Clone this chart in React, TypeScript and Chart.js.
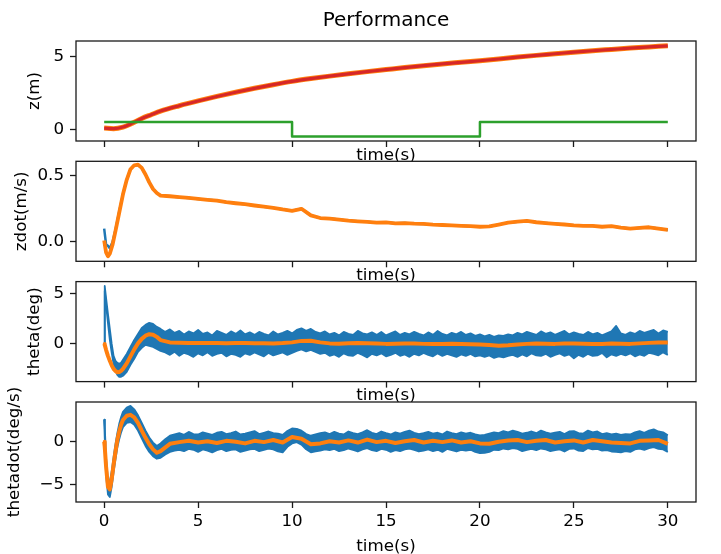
import React, { useEffect, useRef } from 'react';
import { Chart, registerables } from 'chart.js';

Chart.register(...registerables);

// ---------------- data ----------------
const X_TICKS = [0, 5, 10, 15, 20, 25, 30];

// panel 1: z (m)
const T_Z = [0, 0.5, 1, 1.5, 2, 2.5, 3, 4, 5, 6, 7, 8, 9, 10, 11, 12, 13, 14, 15, 16, 17, 18, 19, 20, 21, 22, 23, 24, 25, 26, 27, 28, 29, 30];
const Z_POS = [0.08, 0.04, 0.15, 0.42, 0.74, 1.0, 1.25, 1.62, 1.95, 2.26, 2.55, 2.82, 3.07, 3.3, 3.49, 3.66, 3.82, 3.97, 4.11, 4.25, 4.38, 4.5, 4.61, 4.72, 4.84, 4.97, 5.09, 5.2, 5.31, 5.41, 5.5, 5.59, 5.67, 5.75];
const T_STEP = [0, 10, 10, 20, 20, 30];
const Z_STEP = [0.5, 0.5, -0.5, -0.5, 0.5, 0.5];
const Z_TICKS = [0, 5];

// panel 2: zdot (m/s)
const T_ZDOT_EARLY = [0, 0.1, 0.2, 0.3, 0.45, 0.6, 0.8, 1.0, 1.2, 1.4, 1.6, 1.8, 2.0, 2.2, 2.4, 2.6, 2.8, 3.0];
const ZDOT_FILT_EARLY = [0.01, -0.08, -0.11, -0.09, -0.02, 0.08, 0.22, 0.36, 0.47, 0.55, 0.58, 0.585, 0.56, 0.51, 0.45, 0.4, 0.37, 0.35];
const ZDOT_RAW_EARLY = [0.1, -0.02, -0.03, -0.05, 0.0, 0.09, 0.23, 0.36, 0.47, 0.55, 0.58, 0.58, 0.56, 0.51, 0.45, 0.4, 0.37, 0.35];
const T_LATE_FILT = [
  3.5, 4, 4.5, 5, 5.5, 6, 6.5, 7, 7.5, 8,
  8.5, 9, 9.5, 10, 10.5, 11, 11.5, 12, 12.5, 13,
  13.5, 14, 14.5, 15, 15.5, 16, 16.5, 17, 17.5, 18,
  18.5, 19, 19.5, 20, 20.5, 21, 21.5, 22, 22.5, 23,
  23.5, 24, 24.5, 25, 25.5, 26, 26.5, 27, 27.5, 28,
  28.5, 29, 29.5, 30,
];
const ZDOT_LATE = [
  0.345, 0.338, 0.332, 0.325, 0.318, 0.312, 0.3, 0.292, 0.285, 0.275,
  0.266, 0.257, 0.245, 0.235, 0.25, 0.2, 0.18, 0.176, 0.168, 0.16,
  0.155, 0.151, 0.145, 0.147, 0.14, 0.142, 0.137, 0.135, 0.13, 0.127,
  0.124, 0.121, 0.118, 0.114, 0.116, 0.13, 0.145, 0.152, 0.158, 0.148,
  0.142, 0.136, 0.131, 0.125, 0.121, 0.12, 0.114, 0.118, 0.108, 0.1,
  0.105, 0.11, 0.1, 0.09,
];
const ZDOT_TICKS = [0, 0.5];

// panels 3 & 4: sample times
const T_EARLY = [0, 0.03, 0.1, 0.2, 0.3, 0.4, 0.5, 0.6, 0.7, 0.8, 0.9, 1.0, 1.2, 1.4, 1.6, 1.8, 2.0, 2.2, 2.4, 2.6, 2.8, 3.0];
const T_LATE_BAND = [
  3.25, 3.5, 3.75, 4, 4.25, 4.5, 4.75, 5, 5.25, 5.5, 5.75, 6,
  6.25, 6.5, 6.75, 7, 7.25, 7.5, 7.75, 8, 8.25, 8.5, 8.75, 9,
  9.25, 9.5, 9.75, 10, 10.25, 10.5, 10.75, 11, 11.25, 11.5, 11.75, 12,
  12.25, 12.5, 12.75, 13, 13.25, 13.5, 13.75, 14, 14.25, 14.5, 14.75, 15,
  15.25, 15.5, 15.75, 16, 16.25, 16.5, 16.75, 17, 17.25, 17.5, 17.75, 18,
  18.25, 18.5, 18.75, 19, 19.25, 19.5, 19.75, 20, 20.25, 20.5, 20.75, 21,
  21.25, 21.5, 21.75, 22, 22.25, 22.5, 22.75, 23, 23.25, 23.5, 23.75, 24,
  24.25, 24.5, 24.75, 25, 25.25, 25.5, 25.75, 26, 26.25, 26.5, 26.75, 27,
  27.25, 27.5, 27.75, 28, 28.25, 28.5, 28.75, 29, 29.25, 29.5, 29.75, 30,
];

// panel 3: theta (deg) – raw envelope (upper / lower) and filtered
const THETA_HI_EARLY = [0, 5.8, 4.6, 3.0, 1.5, 0.0, -1.2, -1.7, -1.9, -2.0, -1.9, -1.6, -1.0, -0.3, 0.4, 1.0, 1.6, 1.9, 2.1, 2.0, 1.7, 1.5];
const THETA_LO_EARLY = [0, 5.3, 3.9, 2.1, 0.4, -0.9, -2.0, -2.7, -3.1, -3.3, -3.3, -3.2, -2.8, -2.1, -1.5, -0.8, -0.4, -0.1, -0.2, -0.3, -0.5, -0.7];
const THETA_HI_LATE = [
  1.2, 1.45, 1.1, 1.3, 0.95, 1.25, 1.05, 1.4, 1.0, 1.15, 0.85, 1.3,
  1.1, 0.9, 1.25, 1.0, 1.35, 0.95, 1.15, 0.9, 1.2, 1.0, 0.85, 1.25,
  0.95, 1.1, 1.3, 1.05, 1.4, 1.55, 1.3, 1.5, 1.2, 1.05, 1.25, 0.95,
  1.1, 0.85, 1.2, 1.0, 0.9, 1.3, 1.05, 0.95, 1.15, 0.9, 1.2, 0.85,
  1.05, 1.25, 0.9, 1.1, 0.95, 1.2, 1.0, 0.85, 1.15, 0.9, 1.3, 1.0,
  0.85, 1.1, 0.95, 1.2, 0.9, 1.05, 0.8, 0.95, 0.75, 0.9, 0.7, 0.85,
  0.8, 0.95, 0.85, 1.1, 0.95, 1.2, 1.05, 0.9, 1.25, 1.0, 1.15, 0.9,
  1.1, 1.3, 0.95, 1.15, 1.0, 0.9, 1.2, 0.95, 1.1, 0.85, 1.05, 1.25,
  1.8, 1.05, 0.9, 1.15, 1.0, 1.3, 1.1, 1.25, 1.4, 1.05, 1.35, 1.2,
];
const THETA_LO_LATE = [
  -0.85, -1.1, -0.8, -1.2, -0.9, -1.05, -1.3, -0.95, -1.15, -0.85, -1.2, -1.0,
  -0.9, -1.25, -1.0, -1.1, -1.3, -0.95, -1.1, -0.85, -1.05, -1.25, -0.9, -1.15,
  -1.0, -0.85, -1.1, -0.9, -0.7, -0.55, -0.75, -0.6, -0.8, -1.0, -0.9, -1.2,
  -1.05, -1.3, -0.95, -1.15, -1.2, -0.9, -1.1, -1.35, -1.0, -1.15, -0.95, -1.25,
  -1.1, -0.9, -1.2, -1.05, -1.3, -1.0, -1.15, -0.9, -1.1, -1.25, -0.95, -1.2,
  -1.0, -1.15, -1.3, -1.05, -1.2, -1.0, -1.25, -1.15, -1.3, -1.15, -1.4, -1.25,
  -1.35, -1.2, -1.1, -1.3, -1.05, -1.25, -0.95, -1.15, -1.2, -1.0, -1.3, -1.1,
  -0.95, -1.2, -1.05, -1.45, -1.1, -1.3, -1.0, -1.2, -1.15, -0.9, -1.35, -1.05,
  -1.2, -1.0, -1.15, -0.95, -1.25, -1.05, -1.2, -0.9, -1.0, -1.15, -0.85, -1.1,
];
const THETA_FILT_EARLY = [0, -0.1, -0.6, -1.2, -1.7, -2.15, -2.5, -2.72, -2.84, -2.82, -2.7, -2.5, -1.95, -1.25, -0.55, 0.05, 0.5, 0.82, 0.97, 0.92, 0.7, 0.38];
const THETA_FILT_LATE = [
  0.15, 0.12, 0.1, 0.08, 0.1, 0.08, 0.06, 0.08, 0.1, 0.07,
  0.06, 0.05, 0.08, 0.15, 0.3, 0.32, 0.15, 0.05, 0.02, 0.06,
  0.08, 0.06, 0.03, 0.0, 0.02, 0.04, 0.03, 0.0, -0.02, 0.0,
  0.02, 0.0, -0.03, -0.06, -0.12, -0.18, -0.14, -0.06, 0.0, 0.04,
  0.02, 0.0, 0.03, 0.05, 0.02, -0.02, 0.0, 0.04, 0.02, 0.0,
  0.05, 0.1, 0.14, 0.15,
];
const THETA_TICKS = [0, 5];

// panel 4: thetadot (deg/s)
const THD_HI_EARLY = [2.6, 1.8, -1.9, -4.5, -4.7, -3.5, -1.8, -0.3, 1.0, 2.1, 2.9, 3.5, 4.0, 4.2, 3.8, 3.1, 2.2, 1.3, 0.5, -0.1, -0.5, -0.2];
const THD_LO_EARLY = [2.6, 0.4, -3.9, -6.2, -6.5, -5.3, -3.6, -2.1, -0.7, 0.3, 1.1, 1.7, 2.2, 2.3, 2.0, 1.3, 0.4, -0.5, -1.2, -1.7, -2.0, -1.9];
const THD_HI_LATE = [
  0.3, 0.7, 0.85, 1.0, 0.8, 1.15, 0.9, 0.85, 1.1, 0.95, 0.8, 1.05,
  1.15, 0.9, 1.0, 1.2, 0.85, 0.95, 1.1, 1.25, 0.9, 1.05, 1.2, 1.0,
  0.95, 0.8, 1.25, 1.55, 1.5, 1.3, 0.9, 0.7, 0.85, 1.0, 1.1, 0.9,
  1.15, 0.95, 0.85, 1.2, 1.0, 0.9, 1.1, 1.35, 1.05, 0.9, 1.2, 1.0,
  0.85, 1.1, 0.95, 1.15, 1.3, 1.05, 0.9, 1.0, 1.15, 0.95, 1.05, 0.85,
  1.2, 1.0, 0.9, 1.1, 0.95, 1.05, 0.85, 0.75, 0.8, 0.95, 1.1, 1.0,
  1.25, 1.1, 1.3, 1.15, 0.95, 1.05, 1.2, 1.0, 1.3, 1.1, 0.95, 1.05,
  1.15, 0.9, 1.2, 1.25, 1.0, 0.95, 1.3, 1.1, 1.2, 0.9, 1.0, 0.85,
  0.95, 0.8, 0.9, 0.85, 1.1, 1.25, 1.05, 1.3, 1.45, 1.2, 1.1, 0.75,
];
const THD_LO_LATE = [
  -1.5, -1.2, -1.05, -0.95, -1.1, -0.85, -0.95, -1.2, -0.9, -1.05, -1.25, -1.0,
  -0.85, -1.1, -0.95, -0.9, -1.2, -1.05, -0.9, -0.85, -1.1, -0.95, -0.8, -0.9,
  -1.15, -1.25, -0.6, -0.2, -0.05, -0.35, -0.9, -1.25, -1.15, -1.05, -0.9, -1.0,
  -0.85, -1.1, -1.0, -0.8, -0.95, -1.15, -0.9, -0.75, -1.0, -1.1, -0.85, -0.95,
  -1.2, -1.0, -1.1, -0.9, -0.8, -0.95, -1.15, -1.05, -0.9, -1.1, -0.95, -1.2,
  -0.85, -1.0, -1.15, -0.95, -1.05, -0.95, -1.2, -1.35, -1.3, -1.2, -0.95, -1.0,
  -0.8, -0.9, -0.75, -0.85, -1.1, -0.95, -0.85, -1.0, -0.8, -0.9, -1.1, -1.0,
  -0.9, -1.15, -0.85, -0.8, -1.05, -1.1, -0.75, -0.9, -0.85, -1.05, -1.0, -1.15,
  -1.2, -1.25, -1.1, -1.2, -0.9, -0.8, -0.95, -0.75, -0.65, -0.85, -0.9, -1.2,
];
const THD_FILT_EARLY = [0, -0.6, -2.9, -5.3, -5.6, -4.4, -2.7, -1.2, 0.2, 1.2, 2.0, 2.55, 3.05, 3.15, 2.85, 2.2, 1.3, 0.45, -0.3, -0.9, -1.3, -1.1];
const THD_FILT_LATE = [
  -0.25, -0.05, 0.1, -0.1, 0.05, -0.15, 0.1, 0.0, -0.2, 0.1,
  -0.05, 0.2, -0.1, 0.55, 0.35, -0.3, -0.2, 0.05, -0.1, 0.15,
  -0.1, 0.25, -0.05, 0.1, -0.15, 0.05, 0.2, -0.1, 0.1, -0.05,
  0.15, -0.1, 0.05, -0.2, -0.25, 0.0, 0.15, 0.2, -0.05, 0.1,
  0.2, -0.1, 0.05, 0.15, -0.1, 0.2, 0.05, -0.1, -0.15, -0.2,
  0.1, 0.15, 0.2, -0.25,
];
const THD_TICKS = [-5, 0];

// ---------------- helpers ----------------
const W = 721;
const H = 554;
const PLOT_LEFT = 76;
const PLOT_RIGHT = 696;
const PLOT_H = 100;
const FONT = "'DejaVu Sans', sans-serif";
const BLUE = '#1f77b4';
const ORANGE = '#ff7f0e';
const GREEN = '#2ca02c';
const RED = '#d62728';

const T_ZDOT = [...T_ZDOT_EARLY, ...T_LATE_FILT];
const T_BAND = [...T_EARLY, ...T_LATE_BAND];
const T_FILT = [...T_EARLY, ...T_LATE_FILT];

const pts = (xs: number[], ys: number[]) => xs.map((x, i) => ({ x, y: ys[i] }));
const minus = (s: string) => s.replace('-', '\u2212');

const line = (data: any, color: string, width: number, order: number, extra: any = {}) => ({
  data,
  borderColor: color,
  backgroundColor: color,
  borderWidth: width,
  pointRadius: 0,
  tension: 0,
  fill: false,
  order,
  borderJoinStyle: 'round',
  borderCapStyle: 'butt',
  ...extra,
});

const framePlugin = {
  id: 'frame',
  beforeDraw(chart: any) {
    const { ctx, chartArea: a } = chart;
    ctx.save();
    ctx.fillStyle = '#ffffff';
    ctx.fillRect(a.left, a.top, a.right - a.left, a.bottom - a.top);
    ctx.restore();
  },
  afterDatasetsDraw(chart: any) {
    const { ctx, chartArea: a } = chart;
    ctx.save();
    ctx.strokeStyle = '#1a1a1a';
    ctx.lineWidth = 1.3;
    ctx.strokeRect(a.left, a.top, a.right - a.left, a.bottom - a.top);
    ctx.restore();
  },
};

type Panel = {
  top: number;
  title?: string;
  yLabel: string;
  yLabelPad: number;
  yMin: number;
  yMax: number;
  yTicks: number[];
  fmt: (v: number) => string;
  bottom: boolean;
  datasets: any[];
};

const PANELS: Panel[] = [
  {
    top: 41,
    title: 'Performance',
    yLabel: 'z(m)',
    yLabelPad: 25,
    yMin: -0.81,
    yMax: 6.08,
    yTicks: Z_TICKS,
    fmt: (v) => minus(String(v)),
    bottom: false,
    datasets: [
      line(pts(T_Z, Z_POS), ORANGE, 5, 3, { cubicInterpolationMode: 'monotone' }),
      line(pts(T_Z, Z_POS), RED, 3.2, 2, { cubicInterpolationMode: 'monotone' }),
      line(pts(T_STEP, Z_STEP), GREEN, 2.5, 1),
    ],
  },
  {
    top: 161.3,
    yLabel: 'zdot(m/s)',
    yLabelPad: 11.3,
    yMin: -0.148,
    yMax: 0.61,
    yTicks: ZDOT_TICKS,
    fmt: (v) => minus(v.toFixed(1)),
    bottom: false,
    datasets: [
      line(pts(T_ZDOT, [...ZDOT_RAW_EARLY, ...ZDOT_LATE]), BLUE, 2.5, 2),
      line(pts(T_ZDOT, [...ZDOT_FILT_EARLY, ...ZDOT_LATE]), ORANGE, 3.8, 1),
    ],
  },
  {
    top: 281.6,
    yLabel: 'theta(deg)',
    yLabelPad: 25,
    yMin: -3.78,
    yMax: 6.24,
    yTicks: THETA_TICKS,
    fmt: (v) => minus(String(v)),
    bottom: false,
    datasets: [
      line(pts(T_BAND, [...THETA_HI_EARLY, ...THETA_HI_LATE]), BLUE, 1.8, 3),
      line(pts(T_BAND, [...THETA_LO_EARLY, ...THETA_LO_LATE]), BLUE, 1.8, 2, { fill: '-1' }),
      line(pts(T_FILT, [...THETA_FILT_EARLY, ...THETA_FILT_LATE]), ORANGE, 4, 1),
    ],
  },
  {
    top: 402,
    yLabel: 'thetadot(deg/s)',
    yLabelPad: 5,
    yMin: -7.08,
    yMax: 4.66,
    yTicks: THD_TICKS,
    fmt: (v) => minus(String(v)),
    bottom: true,
    datasets: [
      line(pts(T_BAND, [...THD_HI_EARLY, ...THD_HI_LATE]), BLUE, 1.8, 3),
      line(pts(T_BAND, [...THD_LO_EARLY, ...THD_LO_LATE]), BLUE, 1.8, 2, { fill: '-1' }),
      line(pts(T_FILT, [...THD_FILT_EARLY, ...THD_FILT_LATE]), ORANGE, 4, 1),
    ],
  },
];

function buildConfig(p: Panel): any {
  const xAxisH = p.bottom ? 52 : 40;
  const plotBottom = p.top + PLOT_H;
  const bottomPad = H - plotBottom - xAxisH;
  const xTitlePad = p.bottom ? -2.9 : 15.8;
  const grid = {
    drawOnChartArea: false,
    drawTicks: true,
    tickLength: 6,
    tickColor: '#1a1a1a',
    tickWidth: 1.3,
  };
  const tickFont = { family: FONT, size: 16.7 };
  return {
    type: 'line',
    data: { datasets: p.datasets },
    options: {
      animation: false,
      responsive: false,
      maintainAspectRatio: false,
      events: [],
      layout: {
        padding: { top: p.title ? 0 : p.top, left: 0, right: W - PLOT_RIGHT, bottom: bottomPad },
      },
      plugins: {
        legend: { display: false },
        tooltip: { enabled: false },
        title: p.title
          ? {
              display: true,
              text: p.title,
              fullSize: false,
              color: '#000',
              font: { family: FONT, size: 20, weight: 'normal', lineHeight: 1.2 },
              padding: { top: 8.5, bottom: p.top - 24 - 8.5 },
            }
          : { display: false },
      },
      scales: {
        x: {
          type: 'linear',
          min: -1.5,
          max: 31.5,
          afterBuildTicks: (s: any) => {
            s.ticks = X_TICKS.map((v) => ({ value: v }));
          },
          afterFit: (s: any) => {
            s.height = xAxisH;
          },
          grid,
          border: { display: false },
          ticks: {
            display: p.bottom,
            font: tickFont,
            color: '#000',
            padding: 4,
            maxRotation: 0,
            autoSkip: false,
            callback: (v: number) => minus(String(v)),
          },
          title: {
            display: true,
            text: 'time(s)',
            color: '#000',
            font: { family: FONT, size: 16.7, lineHeight: 1.2 },
            padding: { top: 0, bottom: xTitlePad },
          },
        },
        y: {
          type: 'linear',
          min: p.yMin,
          max: p.yMax,
          afterBuildTicks: (s: any) => {
            s.ticks = p.yTicks.map((v) => ({ value: v }));
          },
          afterFit: (s: any) => {
            s.width = PLOT_LEFT;
          },
          grid,
          border: { display: false },
          ticks: {
            font: tickFont,
            color: '#000',
            padding: 6,
            autoSkip: false,
            callback: (v: number) => p.fmt(v),
          },
          title: {
            display: true,
            text: p.yLabel,
            color: '#000',
            font: { family: FONT, size: 16.7, lineHeight: 1.2 },
            padding: { top: p.yLabelPad, bottom: 0 },
          },
        },
      },
    },
    plugins: [framePlugin],
  };
}

export default function App() {
  const r0 = useRef<HTMLCanvasElement>(null);
  const r1 = useRef<HTMLCanvasElement>(null);
  const r2 = useRef<HTMLCanvasElement>(null);
  const r3 = useRef<HTMLCanvasElement>(null);
  const refs = [r0, r1, r2, r3];

  useEffect(() => {
    const charts = PANELS.map((p, i) => new Chart(refs[i].current as HTMLCanvasElement, buildConfig(p)));
    return () => charts.forEach((c) => c.destroy());
  }, []);

  return (
    <div
      style={{
        position: 'absolute',
        left: 0,
        top: 0,
        width: W,
        height: H,
        background: '#ffffff',
        overflow: 'hidden',
      }}
    >
      {PANELS.map((_, i) => (
        <canvas
          key={i}
          ref={refs[i]}
          width={W}
          height={H}
          style={{ position: 'absolute', left: 0, top: 0, width: W, height: H }}
        />
      ))}
    </div>
  );
}
